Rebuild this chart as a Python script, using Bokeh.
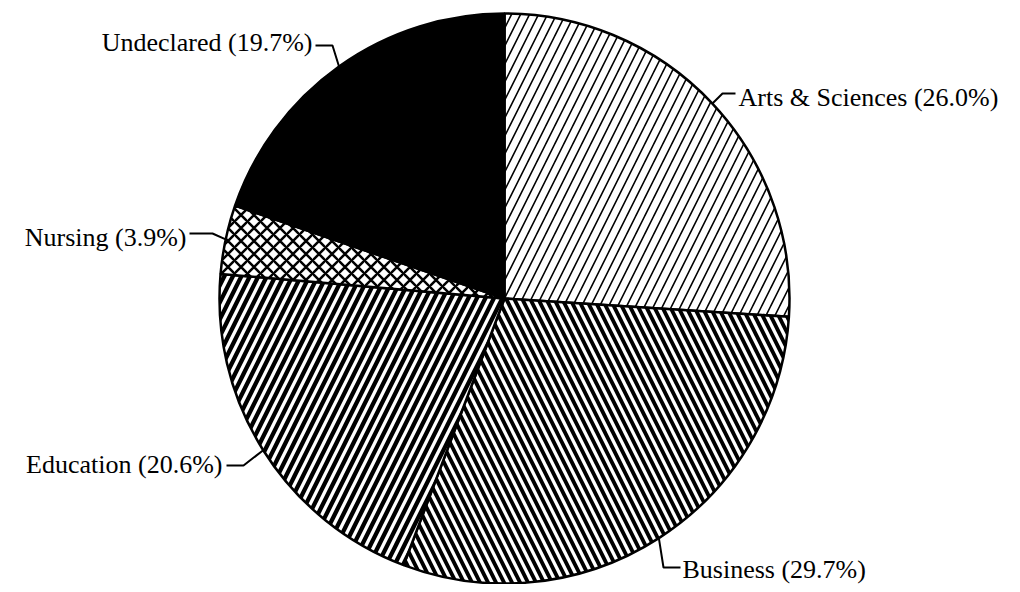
import math
from bokeh.plotting import figure
from bokeh.models import Range1d
from bokeh.embed import file_html
from bokeh.resources import INLINE
from bokeh.core.properties import value

# ---- data ----
categories = ["Arts & Sciences", "Business", "Education", "Nursing", "Undeclared"]
percents = [26.0, 29.7, 20.6, 3.9, 19.7]

# ---- styles (one per slice) ----
fill_colors = ["white", "white", "white", "white", "black"]
hatch_patterns = ["/", "\\", "/", "x", " "]
hatch_scales = [18, 16, 17, 13, 12]
hatch_weights = [1.6, 3.9, 4.3, 2.5, 1]

# ---- layout (picture pixel coordinates) ----
W, H = 1004, 584
CX, CY_PAGE, R = 504, 298, 285
# (end of horizontal leader x, leader y, elbow x, text x, text y, align)
label_layout = [
    (735, 93, 722, 738, 97, "left"),
    (680, 567, 663, 682, 569, "left"),
    (226, 465, 243, 222, 464, "right"),
    (189, 233, 212, 186, 237, "right"),
    (315, 45, 332, 312, 42, "right"),
]


def py(y):
    return H - y


p = figure(width=W, height=H, x_range=Range1d(0, W), y_range=Range1d(0, H),
           output_backend="svg", toolbar_location=None, min_border=0)
p.axis.visible = False
p.grid.visible = False
p.outline_line_color = None
p.background_fill_color = "white"
p.border_fill_color = "white"

total = sum(percents)
cum = 0.0
mids = []
for i, v in enumerate(percents):
    f0 = cum / total
    cum += v
    f1 = cum / total
    mids.append((f0 + f1) / 2)
    p.wedge(x=CX, y=py(CY_PAGE), radius=R,
            start_angle=math.pi / 2 - 2 * math.pi * f0,
            end_angle=math.pi / 2 - 2 * math.pi * f1,
            direction="clock",
            fill_color=fill_colors[i], line_color="black", line_width=2.5,
            hatch_pattern=hatch_patterns[i], hatch_scale=hatch_scales[i],
            hatch_weight=hatch_weights[i], hatch_color="black")

xs, ys, tx, ty, texts, aligns = [], [], [], [], [], []
for i, (c, v) in enumerate(zip(categories, percents)):
    th = 2 * math.pi * mids[i]
    ex = CX + R * math.sin(th)
    ey = CY_PAGE - R * math.cos(th)
    hx, hy, elx, txx, tyy, al = label_layout[i]
    xs.append([ex, elx, hx])
    ys.append([py(ey), py(hy), py(hy)])
    tx.append(txx)
    ty.append(py(tyy))
    texts.append(f"{c} ({v:.1f}%)")
    aligns.append(al)

p.multi_line(xs=xs, ys=ys, line_color="black", line_width=2)
for i in range(len(texts)):
    p.text(x=[tx[i]], y=[ty[i]], text=[texts[i]], text_font=value("Liberation Serif"),
           text_font_size="26px", text_align=aligns[i], text_baseline="middle",
           text_color="black")

open("out.html", "w").write(file_html(p, INLINE))
